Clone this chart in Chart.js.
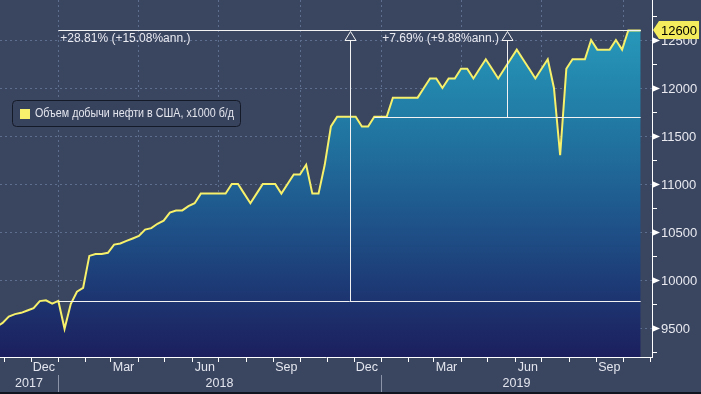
<!DOCTYPE html>
<html>
<head>
<meta charset="utf-8">
<script src="https://cdn.jsdelivr.net/npm/chart.js@4/dist/chart.umd.min.js"></script>
<style>
html,body{margin:0;padding:0;background:#3a4560;}
#wrap{width:701px;height:394px;}
</style>
</head>
<body>
<div id="wrap"><canvas id="c" width="701" height="394"></canvas></div>
<script>
// weekly US crude output, x1000 b/d (week ending)
const weeks = [
  '2017-10-20','2017-10-27','2017-11-03','2017-11-10','2017-11-17','2017-11-24','2017-12-01','2017-12-08','2017-12-15','2017-12-22','2017-12-29',
  '2018-01-05','2018-01-12','2018-01-19','2018-01-26','2018-02-02','2018-02-09','2018-02-16','2018-02-23','2018-03-02','2018-03-09','2018-03-16',
  '2018-03-23','2018-03-30','2018-04-06','2018-04-13','2018-04-20','2018-04-27','2018-05-04','2018-05-11','2018-05-18','2018-05-25','2018-06-01',
  '2018-06-08','2018-06-15','2018-06-22','2018-06-29','2018-07-06','2018-07-13','2018-07-20','2018-07-27','2018-08-03','2018-08-10','2018-08-17',
  '2018-08-24','2018-08-31','2018-09-07','2018-09-14','2018-09-21','2018-09-28','2018-10-05','2018-10-12','2018-10-19','2018-10-26','2018-11-02',
  '2018-11-09','2018-11-16','2018-11-23','2018-11-30','2018-12-07','2018-12-14','2018-12-21','2018-12-28','2019-01-04','2019-01-11','2019-01-18',
  '2019-01-25','2019-02-01','2019-02-08','2019-02-15','2019-02-22','2019-03-01','2019-03-08','2019-03-15','2019-03-22','2019-03-29','2019-04-05',
  '2019-04-12','2019-04-19','2019-04-26','2019-05-03','2019-05-10','2019-05-17','2019-05-24','2019-05-31','2019-06-07','2019-06-14','2019-06-21',
  '2019-06-28','2019-07-05','2019-07-12','2019-07-19','2019-07-26','2019-08-02','2019-08-09','2019-08-16','2019-08-23','2019-08-30','2019-09-06',
  '2019-09-13','2019-09-20','2019-09-27','2019-10-04','2019-10-11','2019-10-18'
];
const output = [
  9510,9553,9620,9645,9658,9682,9707,9780,9789,9754,9782,
  9492,9750,9878,9919,10251,10271,10271,10283,10369,10381,10407,
  10433,10460,10525,10540,10586,10619,10703,10723,10725,10769,10800,
  10900,10900,10900,10900,10900,11000,11000,10900,10800,10900,11000,
  11000,11000,10900,11000,11100,11100,11200,10900,10900,11200,11600,
  11700,11700,11700,11700,11600,11600,11700,11700,11700,11900,11900,
  11900,11900,11900,12000,12100,12100,12000,12100,12100,12200,12200,
  12100,12200,12300,12200,12100,12200,12300,12400,12300,12200,12100,
  12200,12300,12000,11300,12200,12300,12300,12300,12500,12400,12400,
  12400,12500,12400,12600,12600,12600
];
const seriesName = 'Объем добычи нефти в США, x1000 б/д';

const yTicks = [9500, 10000, 10500, 11000, 11500, 12000, 12500];
const yMinorTicks = [9250, 9750, 10250, 10750, 11250, 11750, 12250, 12750];
const gridDates = ['2018-01-01','2018-04-01','2018-07-01','2018-10-01','2019-01-01','2019-04-01','2019-07-01','2019-10-01'];
const monthLabels = ['Dec','Mar','Jun','Sep','Dec','Mar','Jun','Sep'];
const monthLabelDates = ['2017-12-16','2018-03-16','2018-06-16','2018-09-16','2018-12-16','2019-03-16','2019-06-16','2019-09-16'];
const yearLabels = ['2017','2018','2019'];
const yearStarts = ['2017-01-01','2018-01-01','2019-01-01','2020-01-01'];

const changeFrom = ['2017-12-29', '2018-12-21'];
const changeTo = '2019-10-18';
const changeText = ['+28.81% (+15.08%ann.)', '+7.69% (+9.88%ann.)'];

const BG = '#3a4560';
const FONT = '"Liberation Sans", Arial, sans-serif';
const SHIFT = 3.4; // points sit a few days after the week-end date

function day(s) { return (Date.parse(s) - Date.parse('2018-01-01')) / 864e5; }
function valueAt(d) { return output[weeks.indexOf(d)]; }

const points = weeks.map((w, i) => ({x: day(w) + SHIFT, y: output[i]}));

function seg(ctx, x1, y1, x2, y2) {
  ctx.beginPath(); ctx.moveTo(x1, y1); ctx.lineTo(x2, y2); ctx.stroke();
}

const decor = {
  id: 'decor',
  beforeDraw(chart) {
    const ctx = chart.ctx;
    ctx.save();
    ctx.fillStyle = BG;
    ctx.fillRect(0, 0, chart.width, chart.height);
    ctx.restore();
  },
  beforeDatasetsDraw(chart) {
    const {ctx, chartArea: a, scales: {x, y}} = chart;
    ctx.save();
    ctx.strokeStyle = '#5e6e8e';
    ctx.lineWidth = 1;
    ctx.setLineDash([2, 3]);
    yTicks.forEach(v => {
      const py = Math.round(y.getPixelForValue(v)) + 0.5;
      seg(ctx, a.left, py, a.right, py);
    });
    gridDates.forEach(d => {
      const px = Math.round(x.getPixelForValue(day(d))) + 0.5;
      seg(ctx, px, a.top, px, a.bottom);
    });
    ctx.restore();
  },
  afterDatasetsDraw(chart) {
    const {ctx, chartArea: a, scales: {x, y}} = chart;
    ctx.save();

    // change annotations
    const tx = x.getPixelForValue(day(changeTo) + SHIFT);
    const ty = Math.round(y.getPixelForValue(valueAt(changeTo))) + 0.5;
    ctx.strokeStyle = '#f2f2f2';
    ctx.lineWidth = 1;
    changeFrom.forEach((d, i) => {
      const fx = x.getPixelForValue(day(d) + SHIFT);
      const fy = Math.round(y.getPixelForValue(valueAt(d))) + 0.5;
      const mx = Math.round((fx + tx) / 2) + 0.5;
      seg(ctx, fx, fy, tx, fy);
      seg(ctx, fx, ty, tx, ty);
      seg(ctx, mx, fy, mx, ty + 10);
      ctx.beginPath();
      ctx.moveTo(mx, ty + 1);
      ctx.lineTo(mx + 5.5, ty + 10);
      ctx.lineTo(mx - 5.5, ty + 10);
      ctx.closePath();
      ctx.stroke();
      ctx.fillStyle = '#e9eaf0';
      ctx.font = '12px ' + FONT;
      ctx.textBaseline = 'middle';
      ctx.textAlign = 'left';
      ctx.fillText(changeText[i], fx + (i ? 8 : 2), ty + 8);
    });

    // axes
    ctx.strokeStyle = '#ffffff';
    seg(ctx, a.right + 0.5, 0, a.right + 0.5, a.bottom + 1);
    seg(ctx, 0, a.bottom + 0.5, a.right + 1, a.bottom + 0.5);

    ctx.fillStyle = '#ffffff';
    ctx.font = '13px ' + FONT;
    ctx.textAlign = 'left';
    ctx.textBaseline = 'middle';
    yTicks.forEach(v => {
      const py = Math.round(y.getPixelForValue(v)) + 0.5;
      ctx.beginPath();
      ctx.moveTo(a.right, py - 3.5);
      ctx.lineTo(a.right + 8, py);
      ctx.lineTo(a.right, py + 3.5);
      ctx.closePath();
      ctx.fill();
      ctx.fillStyle = '#e8eaf0';
      ctx.fillText(String(v), a.right + 9, py + 1);
      ctx.fillStyle = '#ffffff';
    });
    yMinorTicks.forEach(v => {
      const py = Math.round(y.getPixelForValue(v)) + 0.5;
      if (py > a.top && py < a.bottom) seg(ctx, a.right, py, a.right + 5, py);
    });

    // month ticks on the time axis
    for (let yr = 2017; yr <= 2019; yr++) {
      for (let m = 0; m < 12; m++) {
        const px = Math.round(x.getPixelForValue(day(new Date(Date.UTC(yr, m, 1)).toISOString().slice(0, 10)))) + 0.5;
        if (px >= a.left && px <= a.right) seg(ctx, px, a.bottom, px, a.bottom + 5);
      }
    }
    ctx.fillStyle = '#e3e6ee';
    ctx.font = '12.5px ' + FONT;
    ctx.textAlign = 'center';
    monthLabels.forEach((t, i) => {
      ctx.fillText(t, x.getPixelForValue(day(monthLabelDates[i])), a.bottom + 11);
    });
    yearLabels.forEach((t, i) => {
      const l = Math.max(a.left, x.getPixelForValue(day(yearStarts[i])));
      const r = Math.min(a.right, x.getPixelForValue(day(yearStarts[i + 1])));
      ctx.fillText(t, (l + r) / 2, a.bottom + 27);
      if (i > 0) {
        ctx.strokeStyle = '#8b94a9';
        seg(ctx, Math.round(l) + 0.5, a.bottom + 18, Math.round(l) + 0.5, 394);
      }
    });

    // legend
    ctx.fillStyle = '#37425d';
    ctx.strokeStyle = '#151a29';
    ctx.beginPath();
    ctx.roundRect(12.5, 100.5, 228, 26, 4);
    ctx.fill();
    ctx.stroke();
    ctx.fillStyle = '#f7f06c';
    ctx.fillRect(20, 109, 10, 10);
    ctx.fillStyle = '#e4e6ee';
    ctx.font = '12px ' + FONT;
    ctx.textAlign = 'left';
    ctx.fillText(seriesName, 35, 114, 199);

    // last value flag
    const fy = ty - 0.5;
    ctx.fillStyle = '#f4ec5c';
    ctx.beginPath();
    ctx.moveTo(a.right + 1, fy);
    ctx.lineTo(a.right + 7, fy - 9);
    ctx.lineTo(699, fy - 9);
    ctx.lineTo(699, fy + 9);
    ctx.lineTo(a.right + 7, fy + 9);
    ctx.closePath();
    ctx.fill();
    ctx.fillStyle = '#000000';
    ctx.font = '13px ' + FONT;
    ctx.textAlign = 'center';
    ctx.fillText(String(valueAt(changeTo)), 679, fy + 1);

    ctx.fillStyle = '#10141f';
    ctx.fillRect(0, 392, chart.width, 2);
    ctx.restore();
  }
};

new Chart(document.getElementById('c'), {
  type: 'line',
  data: {
    datasets: [{
      label: seriesName,
      data: points,
      borderColor: '#f6f06a',
      borderWidth: 2,
      pointRadius: 0,
      tension: 0,
      fill: 'start',
      backgroundColor: ctx => {
        const a = ctx.chart.chartArea;
        if (!a) return '#1f5c90';
        const g = ctx.chart.ctx.createLinearGradient(0, a.top, 0, a.bottom);
        g.addColorStop(0, '#29a2c0');
        g.addColorStop(0.34, '#217aa4');
        g.addColorStop(0.56, '#1f5c90');
        g.addColorStop(0.78, '#1d3d78');
        g.addColorStop(1, '#1c1f5e');
        return g;
      }
    }]
  },
  options: {
    responsive: false,
    animation: false,
    devicePixelRatio: 1,
    layout: {padding: {left: 0, top: 0, right: 49, bottom: 37}},
    plugins: {legend: {display: false}, tooltip: {enabled: false}},
    scales: {
      x: {type: 'linear', min: -65.54, max: 671.2, display: false},
      y: {min: 9198, max: 12917, display: false}
    }
  },
  plugins: [decor]
});
</script>
</body>
</html>
